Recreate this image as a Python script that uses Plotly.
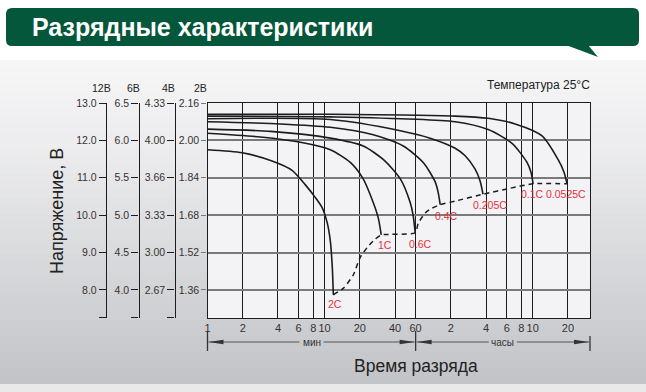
import math
import plotly.graph_objects as go

W, H = 646, 392

# ---------------- data ----------------
curve_names = ["2C", "1C", "0.6C", "0.4C", "0.205C", "0.1C", "0.0525C"]

t_2c = [1.0, 1.98, 3.56, 5.28, 6.86, 8.35, 9.58, 10.57, 11.2, 11.65, 11.89]
v_2c = [11.75, 11.67, 11.45, 11.20, 10.81, 10.47, 10.19, 9.78, 9.31, 8.60, 7.87]

t_1c = [1.0, 2.83, 6.22, 11.2, 16.6, 21.4, 26.1, 28.8, 30.5]
v_1c = [12.19, 12.09, 11.95, 11.75, 11.41, 10.97, 10.33, 9.92, 9.47]

t_06c = [1.0, 3.45, 11.2, 21.4, 31.7, 44.4, 54.0, 57.1, 59.5]
v_06c = [12.30, 12.24, 12.06, 11.85, 11.49, 10.97, 10.33, 10.0, 9.53]

t_04c = [1.0, 4.2, 11.2, 26.1, 47.0, 69.7, 88.2, 93.5, 97.3]
v_04c = [12.50, 12.44, 12.35, 12.15, 11.85, 11.41, 10.89, 10.61, 10.28]

t_0205c = [1.0, 11.2, 44.4, 79.9, 130.6, 159, 193.5, 213, 226]
v_0205c = [12.58, 12.56, 12.26, 12.06, 11.79, 11.59, 11.23, 10.92, 10.56]

t_01c = [1.0, 11.2, 130.6, 250, 400, 537, 581, 605]
v_01c = [12.65, 12.63, 12.50, 12.29, 11.92, 11.41, 11.14, 10.84]

t_00525c = [1.0, 11.2, 130.6, 250, 425, 722, 988, 1112, 1180]
v_00525c = [12.70, 12.70, 12.65, 12.59, 12.44, 12.12, 11.49, 11.15, 10.84]

t_end = [11.89, 14.5, 17.6, 20.2, 23.2, 27.1, 30.5, 59.5, 63.1, 72.5, 83.1, 97.3,
         136, 226, 385, 605, 1180]
v_end = [7.87, 8.05, 8.40, 8.88, 9.14, 9.36, 9.47, 9.53, 9.78, 10.06, 10.19, 10.28,
         10.39, 10.56, 10.72, 10.84, 10.84]

x_tickvals = [1, 2, 4, 6, 8, 10, 20, 40, 60, 120, 240, 360, 480, 600, 1200]
x_ticktext = ["1", "2", "4", "6", "8", "10", "20", "40", "60", "2", "4", "6", "8", "10", "20"]

volts_12 = [8.0, 9.0, 10.0, 11.0, 12.0, 13.0]
labels_12 = ["8.0", "9.0", "10.0", "11.0", "12.0", "13.0"]
labels_6 = ["4.0", "4.5", "5.0", "5.5", "6.0", "6.5"]
labels_4 = ["2.67", "3.00", "3.33", "3.66", "4.00", "4.33"]
labels_2 = ["1.36", "1.52", "1.68", "1.84", "2.00", "2.16"]

# ---------------- geometry ----------------
X0, X1 = 207.5, 590.0      # plot left / right in px
Y0, Y1 = 103.0, 318.0      # plot top / bottom in px
XR = [0, 3.268]
YR = [7.25, 13.0]

def px(x):
    return x / W

def py(y):
    return 1 - y / H

def xt(t):  # minutes -> paper x
    return px(X0 + (math.log10(t) - XR[0]) / (XR[1] - XR[0]) * (X1 - X0))

FONT = "Liberation Sans, Arial, sans-serif"
INK = "#1c1c1c"

fig = go.Figure()

curves = [(t_2c, v_2c), (t_1c, v_1c), (t_06c, v_06c), (t_04c, v_04c),
          (t_0205c, v_0205c), (t_01c, v_01c), (t_00525c, v_00525c)]
for (tt, vv), name in zip(curves, curve_names):
    fig.add_trace(go.Scatter(x=tt, y=vv, mode="lines", name=name,
                             line=dict(color=INK, width=1.6, shape="spline", smoothing=0.7),
                             hoverinfo="skip"))

fig.add_trace(go.Scatter(x=t_end, y=v_end, mode="lines", name="end",
                         line=dict(color=INK, width=1.5, dash="5px,4px", shape="spline", smoothing=0.6),
                         hoverinfo="skip"))

for ax in ["y2", "y3", "y4"]:
    fig.add_trace(go.Scatter(x=[1], y=[None], yaxis=ax, mode="lines",
                             showlegend=False, hoverinfo="skip"))

# ---------------- shapes (background) ----------------
shapes = []
stops = [(60, (246, 246, 247)), (150, (236, 236, 238)), (250, (218, 219, 221)),
         (330, (204, 205, 208)), (384, (194, 195, 198))]
def grad_color(y):
    for (ya, ca), (yb, cb) in zip(stops[:-1], stops[1:]):
        if ya <= y <= yb:
            f = (y - ya) / (yb - ya)
            c = [round(a + (b - a) * f) for a, b in zip(ca, cb)]
            return "rgb(%d,%d,%d)" % tuple(c)
    return "rgb(%d,%d,%d)" % stops[-1][1]

n = 40
for i in range(n):
    ya = 60 + (384 - 60) * i / n
    yb = 60 + (384 - 60) * (i + 1) / n + 0.6
    shapes.append(dict(type="rect", xref="paper", yref="paper", layer="below",
                       x0=0, x1=1, y0=py(yb), y1=py(ya), line=dict(width=0),
                       fillcolor=grad_color((ya + yb) / 2)))
shapes.append(dict(type="rect", xref="paper", yref="paper", layer="below",
                   x0=0, x1=1, y0=0, y1=py(384), line=dict(width=0), fillcolor="#e9e9ea"))
shapes.append(dict(type="rect", xref="paper", yref="paper", layer="below",
                   x0=px(X0), x1=px(X1), y0=py(Y1), y1=py(Y0), line=dict(width=0),
                   fillcolor="#f3f3f5"))

# header band (rounded)
hx0, hx1, hy0, hy1, r = 6, 639, 8, 46, 6
path = (f"M {px(hx0+r)},{py(hy0)} L {px(hx1-r)},{py(hy0)} Q {px(hx1)},{py(hy0)} {px(hx1)},{py(hy0+r)} "
        f"L {px(hx1)},{py(hy1-r)} Q {px(hx1)},{py(hy1)} {px(hx1-r)},{py(hy1)} "
        f"L {px(hx0+r)},{py(hy1)} Q {px(hx0)},{py(hy1)} {px(hx0)},{py(hy1-r)} "
        f"L {px(hx0)},{py(hy0+r)} Q {px(hx0)},{py(hy0)} {px(hx0+r)},{py(hy0)} Z")
shapes.append(dict(type="path", xref="paper", yref="paper", path=path,
                   fillcolor="#04573a", line=dict(width=0)))
shapes.append(dict(type="path", xref="paper", yref="paper",
                   path=f"M {px(566)},{py(45)} L {px(588)},{py(45)} L {px(598)},{py(57)} Z",
                   fillcolor="#04573a", line=dict(width=0)))

# time bracket below the x axis
yb_line = 342
ARC = "#333333"
for tv, top in [(1, 331), (60, 331), (None, 336)]:
    xx = xt(tv) if tv else px(X1)
    shapes.append(dict(type="line", xref="paper", yref="paper", x0=xx, x1=xx,
                       y0=py(351), y1=py(top), line=dict(color=ARC, width=1.3)))

def seg(xa, xb):
    shapes.append(dict(type="line", xref="paper", yref="paper", x0=xa, x1=xb,
                       y0=py(yb_line), y1=py(yb_line), line=dict(color="#555", width=1)))

def head(xtip, direction):
    L = 15 * direction
    shapes.append(dict(type="path", xref="paper", yref="paper",
                       path=f"M {xtip},{py(yb_line)} L {xtip + px(L)},{py(yb_line-2.3)} "
                            f"L {xtip + px(L)},{py(yb_line+2.3)} Z",
                       fillcolor=ARC, line=dict(width=0)))

xa, xm = xt(1), xt(60)
mid1 = (xa + xm) / 2
seg(xa + px(1), mid1 - px(12)); seg(mid1 + px(12), xm - px(1))
head(xa + px(1), 1); head(xm - px(1), -1)
xe = px(X1)
mid2 = (xm + xe) / 2
seg(xm + px(1), mid2 - px(14)); seg(mid2 + px(14), xe - px(1))
head(xm + px(1), 1); head(xe - px(1), -1)

# ---------------- annotations ----------------
ann = []
ann.append(dict(text="<b>Разрядные характеристики</b>", x=px(30), y=py(27), xref="paper", yref="paper",
                xanchor="left", yanchor="middle", showarrow=False,
                font=dict(family=FONT, size=25, color="white")))
ann.append(dict(text="Температура 25°C", x=px(592), y=py(85), xref="paper", yref="paper",
                xanchor="right", yanchor="middle", showarrow=False,
                font=dict(family=FONT, size=12, color="#222")))
for txt, xc in [("12B", 101.5), ("6B", 133.5), ("4B", 168), ("2B", 200)]:
    ann.append(dict(text=txt, x=px(xc), y=py(88), xref="paper", yref="paper",
                    xanchor="center", yanchor="middle", showarrow=False,
                    font=dict(family=FONT, size=10.5, color="#222")))
ann.append(dict(text="Напряжение, В", x=px(57), y=py(211), xref="paper", yref="paper",
                textangle=-90, xanchor="center", yanchor="middle", showarrow=False,
                font=dict(family=FONT, size=18, color="#222")))
ann.append(dict(text="Время разряда", x=xt(60), y=py(366), xref="paper", yref="paper",
                xanchor="center", yanchor="middle", showarrow=False,
                font=dict(family=FONT, size=17.5, color="#222")))
ann.append(dict(text="мин", x=mid1, y=py(yb_line), xref="paper", yref="paper",
                xanchor="center", yanchor="middle", showarrow=False,
                font=dict(family=FONT, size=10, color="#333")))
ann.append(dict(text="часы", x=mid2, y=py(yb_line), xref="paper", yref="paper",
                xanchor="center", yanchor="middle", showarrow=False,
                font=dict(family=FONT, size=10, color="#333")))
label_shift = [(2, -9), (4, -10), (5, -11), (6, -11), (7, -11), (-1, -10), (-1, -10)]
for (tt, vv), name, (dx, dy) in zip(curves, curve_names, label_shift):
    ann.append(dict(text=name, x=math.log10(tt[-1]), y=vv[-1], xref="x", yref="y",
                    xshift=dx, yshift=dy, xanchor="center", yanchor="middle", showarrow=False,
                    font=dict(family=FONT, size=10.5, color="#e8303a")))

# ---------------- axes ----------------
ydom = [py(Y1), py(Y0)]
tickfont = dict(family=FONT, size=10.5, color="#333")

def free_axis(pos, labels):
    return dict(overlaying="y", anchor="free", position=px(pos), side="left",
                range=YR, tickmode="array", tickvals=[7.2505] + volts_12,
                ticktext=[""] + labels, ticks="outside", ticklen=7, tickwidth=1.4,
                tickcolor=INK, showline=True, linecolor=INK, linewidth=1.4,
                showgrid=False, zeroline=False, automargin=False, tickfont=tickfont,
                fixedrange=True)

fig.update_layout(
    template="none",
    width=W, height=H,
    margin=dict(l=0, r=0, t=0, b=0),
    paper_bgcolor="white",
    plot_bgcolor="rgba(0,0,0,0)",
    showlegend=False,
    font=dict(family=FONT, color="#333"),
    xaxis=dict(type="log", range=XR, domain=[px(X0), px(X1)], anchor="y",
               tickmode="array", tickvals=x_tickvals, ticktext=x_ticktext, ticks="",
               showline=True, linecolor=INK, linewidth=1.4, mirror=True,
               showgrid=True, gridcolor=INK, gridwidth=1.3, zeroline=False,
               tickfont=dict(family=FONT, size=11, color="#333"), automargin=False,
               fixedrange=True),
    yaxis=dict(range=YR, domain=ydom, anchor="x", tickmode="array",
               tickvals=volts_12, ticktext=labels_2, ticks="outside", ticklen=5,
               tickcolor="#7a7a7a", tickwidth=1.4,
               showline=True, linecolor=INK, linewidth=1.4, mirror=True,
               showgrid=True, gridcolor="#7a7a7a", gridwidth=1.5, zeroline=False,
               tickfont=tickfont, automargin=False, fixedrange=True),
    yaxis2=free_axis(106, labels_12),
    yaxis3=free_axis(138.5, labels_6),
    yaxis4=free_axis(174.5, labels_4),
    shapes=shapes,
    annotations=ann,
)

fig.write_html("out.html")
